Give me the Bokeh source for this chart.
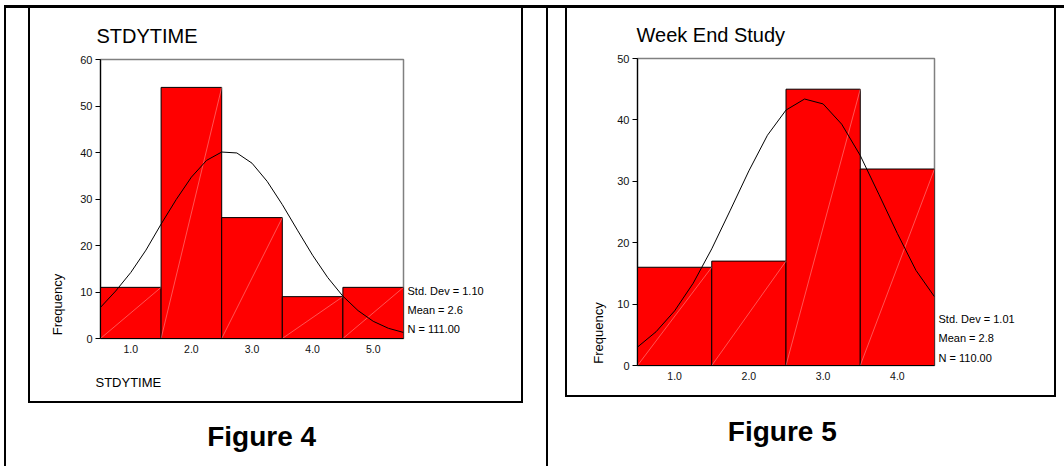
from bokeh.plotting import figure
from bokeh.models import Range1d, FixedTicker, LinearAxis, InlineStyleSheet
from bokeh.layouts import row
from bokeh.embed import file_html
from bokeh.resources import INLINE

FONT = "Liberation Sans"

# ---------------- data: Figure 4 ----------------
f4_title = "STDYTIME"
f4_centers = [1, 2, 3, 4, 5]
f4_counts = [11, 54, 26, 9, 11]
f4_tick_labels = ["1.0", "2.0", "3.0", "4.0", "5.0"]
f4_yticks = [0, 10, 20, 30, 40, 50, 60]
f4_curve_x = [0.5, 0.75, 1.0, 1.25, 1.5, 1.75, 2.0, 2.25, 2.5, 2.75, 3.0,
              3.25, 3.5, 3.75, 4.0, 4.25, 4.5, 4.75, 5.0, 5.25, 5.5]
f4_curve_y = [6.7, 10.2, 14.2, 19.0, 24.6, 29.9, 34.7, 38.3, 40.1, 39.9, 37.7,
              33.8, 28.8, 23.3, 17.9, 13.1, 9.1, 6.0, 3.7, 2.2, 1.3]
f4_stats = ["Std. Dev = 1.10", "Mean = 2.6", "N = 111.00"]
f4_xlabel = "STDYTIME"
f4_caption = "Figure 4"

# ---------------- data: Figure 5 ----------------
f5_title = "Week End  Study"
f5_centers = [1, 2, 3, 4]
f5_counts = [16, 17, 45, 32]
f5_tick_labels = ["1.0", "2.0", "3.0", "4.0"]
f5_yticks = [0, 10, 20, 30, 40, 50]
f5_curve_x = [0.5, 0.75, 1.0, 1.25, 1.5, 1.75, 2.0, 2.25, 2.5, 2.75, 3.0,
              3.25, 3.5, 3.75, 4.0, 4.25, 4.5]
f5_curve_y = [3.0, 5.5, 8.9, 13.4, 19.0, 25.3, 31.7, 37.5, 41.6, 43.4, 42.6,
              39.3, 34.2, 27.9, 21.5, 15.5, 11.2]
f5_stats = ["Std. Dev = 1.01", "Mean = 2.8", "N = 110.00"]
f5_caption = "Figure 5"

YLABEL = "Frequency"


def text_axis(p, side, ticks, labels, size, standoff, bold=False, vertical=False):
    ax = LinearAxis(ticker=FixedTicker(ticks=ticks),
                    major_label_overrides={t: s for t, s in zip(ticks, labels)})
    ax.axis_line_color = None
    ax.major_tick_line_color = None
    ax.minor_tick_line_color = None
    ax.major_tick_out = 0
    ax.major_tick_in = 0
    ax.major_label_standoff = standoff
    ax.major_label_text_font = FONT
    ax.major_label_text_font_size = size
    ax.major_label_text_color = "black"
    if bold:
        ax.major_label_text_font_style = "bold"
    if vertical:
        ax.major_label_orientation = "vertical"
    p.add_layout(ax, side)
    return ax


def make_panel(W, H, left, top, fw, fh, xr, yr, centers, counts, tick_labels,
               yticks, cx, cy, title, title_offset, css):
    p = figure(width=W, height=H, output_backend="svg", toolbar_location=None,
               x_range=Range1d(*xr), y_range=Range1d(*yr),
               min_border_left=left, min_border_top=top,
               min_border_right=W - left - fw, min_border_bottom=H - top - fh,
               stylesheets=[InlineStyleSheet(css=css)])
    if "frame_align" in p.properties():
        p.frame_align = False
    p.background_fill_color = "white"
    p.border_fill_color = "white"
    p.outline_line_color = "#808080"
    p.outline_line_width = 1.5
    p.xgrid.visible = False
    p.ygrid.visible = False

    p.title.text = title
    p.title.text_font = FONT
    p.title.text_font_size = "20px"
    p.title.text_font_style = "normal"
    p.title.text_color = "black"
    p.title.align = "left"
    p.title.offset = title_offset
    p.title.standoff = 26

    lefts = [c - 0.5 for c in centers]
    rights = [c + 0.5 for c in centers]
    p.quad(left=lefts, right=rights, bottom=0, top=counts,
           fill_color="#ff0000", line_color="black", line_width=1)
    p.segment(x0=lefts, y0=[0] * len(counts), x1=rights, y1=counts,
              line_color="#ffc8c8", line_width=0.6, line_alpha=0.7)
    p.line(cx, cy, line_color="black", line_width=1)

    p.xaxis.ticker = FixedTicker(ticks=centers)
    p.xaxis.major_label_overrides = {c: t for c, t in zip(centers, tick_labels)}
    p.yaxis.ticker = FixedTicker(ticks=yticks)
    for ax in (p.xaxis, p.yaxis):
        ax.axis_line_color = "black"
        ax.axis_line_width = 1.2
        ax.minor_tick_line_color = None
        ax.major_label_text_font = FONT
        ax.major_label_text_color = "#111111"
        ax.major_tick_line_color = "black"
    p.xaxis.major_tick_out = 0
    p.xaxis.major_tick_in = 0
    p.xaxis.major_label_standoff = 6
    p.xaxis.major_label_text_font_size = "10.5px"
    p.yaxis.major_tick_out = 5
    p.yaxis.major_tick_in = 0
    p.yaxis.major_label_standoff = 3
    p.yaxis.major_label_text_font_size = "11px"
    return p


def frame_css(table_left, table_w, box_left, box_w, box_h, H):
    return f"""
:host::before {{ content: ""; position: absolute; left: {table_left}px; top: 5px;
  width: {table_w}px; height: {H}px; border-left: 2px solid #000; border-top: 3px solid #000;
  box-sizing: border-box; pointer-events: none; z-index: 10; }}
:host::after {{ content: ""; position: absolute; left: {box_left}px; top: 5px;
  width: {box_w}px; height: {box_h}px; border: 2px solid #000;
  box-sizing: border-box; pointer-events: none; z-index: 10; }}
"""


H = 466
W1, W2 = 546, 518

p4 = make_panel(W1, H, 100, 59, 303, 279, (0.5, 5.5), (0, 60), f4_centers, f4_counts,
                f4_tick_labels, f4_yticks, f4_curve_x, f4_curve_y, f4_title, -4,
                frame_css(4, W1 - 4, 28, 495, 398, H))
text_axis(p4, "left", [7.3], [YLABEL], "13px", 12, vertical=True)
text_axis(p4, "right", [10.25, 6.2, 2.1], f4_stats, "11px", 4)
text_axis(p4, "below", [0.96], [f4_xlabel], "13px", 19)
text_axis(p4, "below", [3.16], [f4_caption], "28px", 28, bold=True)

p5 = make_panel(W2, H, 91, 58, 297, 307, (0.5, 4.5), (0, 50), f5_centers, f5_counts,
                f5_tick_labels, f5_yticks, f5_curve_x, f5_curve_y, f5_title, -1,
                frame_css(0, W2, 19, 491, 392, H))
text_axis(p5, "left", [5.3], [YLABEL], "13px", 8, vertical=True)
text_axis(p5, "right", [7.65, 4.4, 1.3], f5_stats, "11px", 4)
text_axis(p5, "below", [2.45], [f5_caption], "28px", 33, bold=True)

layout = row(p4, p5, spacing=0)
open("out.html", "w").write(file_html(layout, INLINE))
